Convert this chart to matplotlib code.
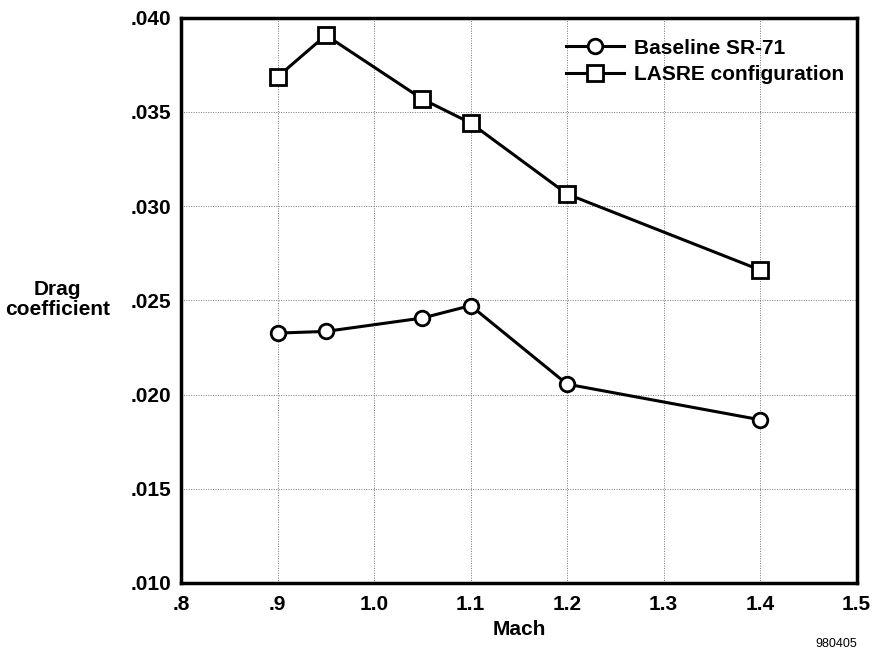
import matplotlib.pyplot as plt
from matplotlib.ticker import FixedLocator, FixedFormatter

plt.rcParams['font.family'] = ['Liberation Sans', 'DejaVu Sans']

# Drag coefficient vs Mach number
mach_baseline = [0.9, 0.95, 1.05, 1.1, 1.2, 1.4]
cd_baseline = [0.02326, 0.02335, 0.02406, 0.02472, 0.02055, 0.01866]

mach_lasre = [0.9, 0.95, 1.05, 1.1, 1.2, 1.4]
cd_lasre = [0.03686, 0.03907, 0.03568, 0.03441, 0.03064, 0.02661]

x_ticks = [0.8, 0.9, 1.0, 1.1, 1.2, 1.3, 1.4, 1.5]
x_tick_labels = ['.8', '.9', '1.0', '1.1', '1.2', '1.3', '1.4', '1.5']
y_ticks = [0.010, 0.015, 0.020, 0.025, 0.030, 0.035, 0.040]
y_tick_labels = ['.010', '.015', '.020', '.025', '.030', '.035', '.040']

fs = 15

fig = plt.figure(figsize=(8.75, 6.55), dpi=100)
ax = fig.add_axes([0.207, 0.110, 0.772, 0.863])

ax.plot(mach_baseline, cd_baseline, color='black', lw=2.2, marker='o',
        ms=10.5, mfc='white', mec='black', mew=2, label='Baseline SR-71')
ax.plot(mach_lasre, cd_lasre, color='black', lw=2.2, marker='s',
        ms=11, mfc='white', mec='black', mew=2, label='LASRE configuration')

ax.set_xlim(0.8, 1.5)
ax.set_ylim(0.010, 0.040)
ax.xaxis.set_major_locator(FixedLocator(x_ticks))
ax.xaxis.set_major_formatter(FixedFormatter(x_tick_labels))
ax.yaxis.set_major_locator(FixedLocator(y_ticks))
ax.yaxis.set_major_formatter(FixedFormatter(y_tick_labels))
ax.tick_params(axis='y', length=0, labelsize=fs, pad=7)
ax.tick_params(axis='x', length=0, labelsize=fs, pad=9)
for lab in ax.get_xticklabels() + ax.get_yticklabels():
    lab.set_fontweight('bold')

ax.grid(True, color='#777777', lw=0.7, ls=(0, (1, 1.5)))
for sp in ax.spines.values():
    sp.set_linewidth(2.5)

ax.set_xlabel('Mach', fontsize=fs, fontweight='bold', labelpad=4)
fig.text(0.066, 0.543, 'Drag\ncoefficient', ha='center', va='center',
         fontsize=fs, fontweight='bold', linespacing=1.05)
fig.text(0.979, 0.008, '980405', ha='right', va='bottom', fontsize=9)

ax.legend(loc='upper right', bbox_to_anchor=(1.013, 1.0), frameon=False,
          prop={'weight': 'bold', 'size': fs}, handlelength=2.8,
          handletextpad=0.5, labelspacing=0.35, borderaxespad=0.7,
          borderpad=0.3)

fig.savefig('out.png', dpi=100)
